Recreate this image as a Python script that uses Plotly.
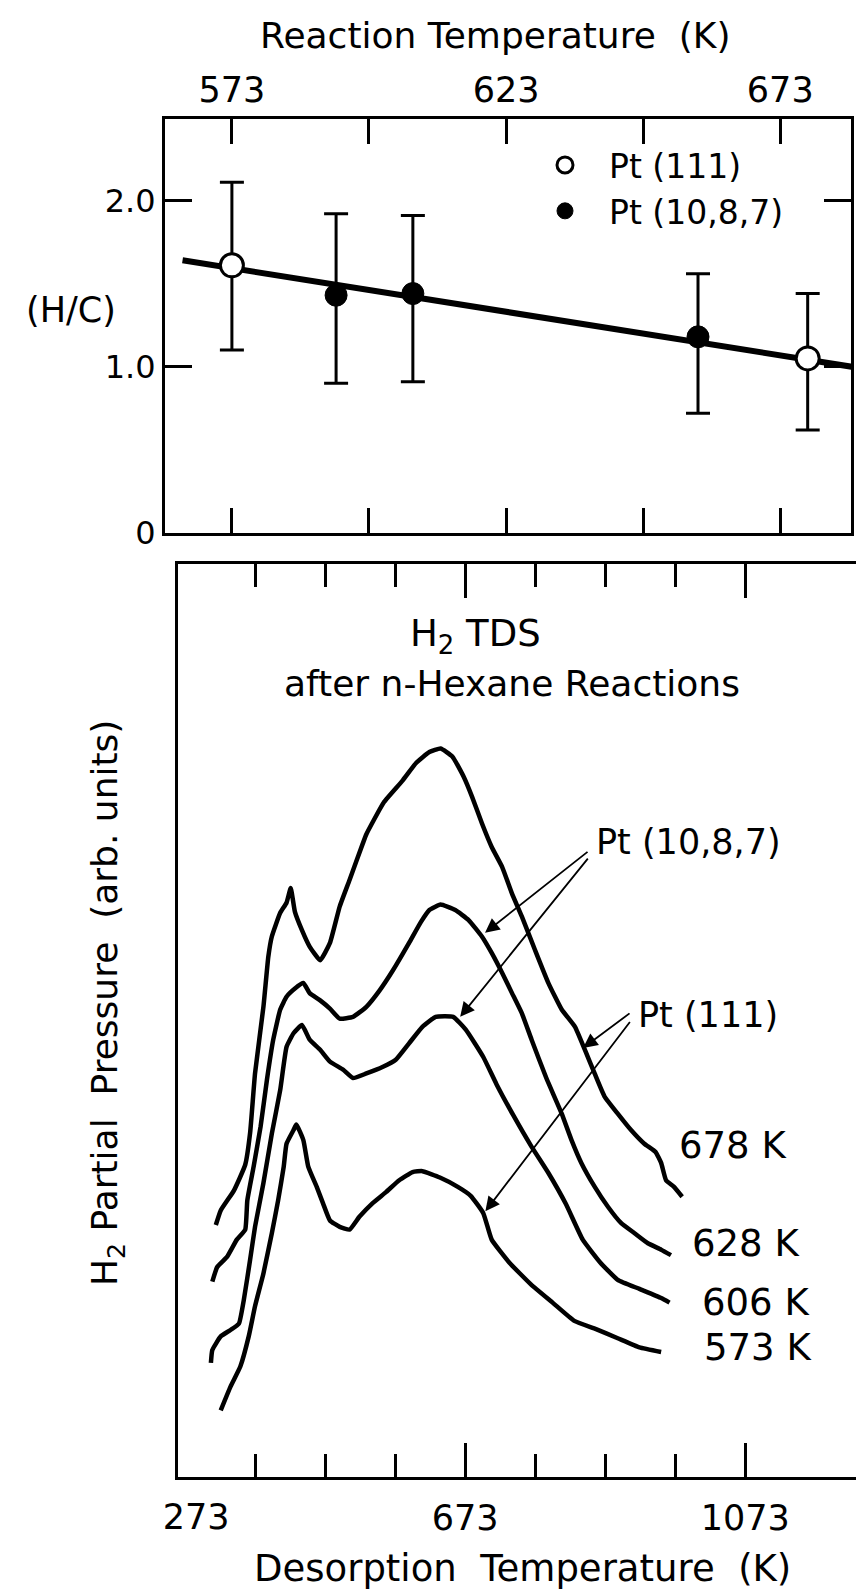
import plotly.graph_objects as go

# ---------------- Top panel data: (H/C) vs reaction temperature ----------------
T_PT111 = [573, 678]
HC_PT111 = [1.61, 1.05]
ERR_PT111_UP = [0.50, 0.39]
ERR_PT111_DN = [0.51, 0.43]

T_PT1087 = [592, 606, 658]
HC_PT1087 = [1.43, 1.44, 1.18]
ERR_PT1087_UP = [0.49, 0.47, 0.38]
ERR_PT1087_DN = [0.53, 0.53, 0.46]

FIT_T = [564, 686]
FIT_HC = [1.64, 1.00]

TOP_TICKS = [573, 598, 623, 648, 673]
TOP_TICK_TEXT = ["573", "", "623", "", "673"]
HC_TICKS = [0, 1, 2]
HC_TICK_TEXT = ["0", "1.0", "2.0"]

# ---------------- Bottom panel data: H2 TDS spectra (arb. units) ----------------
T_678 = [317, 324, 343, 359, 366, 373, 385, 392, 397, 409, 418, 424, 430, 440, 451, 466, 480, 494,
         508, 527, 532, 557, 584, 603, 622, 638, 655, 671, 683, 697, 711, 726, 740, 754, 773, 792,
         811, 830, 844, 858, 872, 891, 910, 929, 945, 953, 960, 971, 983]
P_678 = [27.6, 29.2, 31.4, 34.2, 37.7, 44.2, 51.5, 57.0, 59.2, 61.8, 62.9, 64.5, 61.9, 59.9, 58.1,
         56.6, 58.5, 62.5, 65.4, 69.4, 70.4, 73.9, 76.3, 78.2, 79.4, 79.8, 78.9, 76.7, 74.5, 71.6,
         69.0, 66.8, 63.9, 61.4, 57.7, 54.1, 51.2, 49.3, 46.8, 44.2, 41.7, 39.8, 38.0, 36.5, 35.6,
         34.4, 32.5, 31.8, 30.7]

T_628 = [312, 319, 333, 347, 359, 362, 371, 381, 390, 399, 409, 418, 430, 442, 451, 466, 480, 494,
         513, 532, 551, 570, 593, 610, 622, 638, 659, 678, 697, 711, 726, 740, 754, 768, 789, 811,
         825, 839, 858, 877, 896, 915, 934, 953, 967]
P_628 = [21.4, 23.0, 24.1, 26.0, 27.1, 30.3, 34.0, 38.4, 43.5, 47.9, 51.2, 52.6, 53.5, 54.1, 53.0,
         52.2, 51.3, 50.2, 50.4, 51.5, 53.3, 55.5, 58.5, 60.8, 62.1, 62.7, 62.1, 61.0, 59.2, 57.4,
         55.2, 53.0, 50.8, 47.9, 43.7, 39.8, 36.9, 34.4, 31.8, 29.6, 27.8, 26.7, 25.6, 24.9, 24.3]

T_606 = [310, 312, 324, 338, 350, 357, 366, 373, 385, 397, 409, 418, 428, 440, 451, 466, 480, 499,
         513, 532, 555, 574, 593, 612, 631, 656, 674, 699, 718, 742, 767, 792, 817, 841, 866, 891,
         922, 953, 965]
P_606 = [12.5, 13.9, 15.4, 16.1, 16.8, 19.4, 23.8, 27.4, 32.2, 37.6, 42.4, 47.1, 48.6, 49.5, 47.9,
         46.8, 45.5, 44.6, 43.7, 44.2, 44.9, 45.7, 47.5, 49.3, 50.4, 50.4, 49.0, 46.0, 43.0, 39.6,
         36.3, 33.3, 29.9, 26.0, 23.5, 21.6, 20.6, 19.6, 19.1]

T_573 = [324, 338, 352, 364, 373, 385, 397, 406, 414, 418, 428, 432, 442, 449, 461, 470, 480, 494,
         508, 522, 541, 560, 579, 598, 612, 637, 662, 681, 699, 711, 736, 767, 798, 829, 860, 891,
         922, 953]
P_573 = [7.3, 9.9, 12.1, 15.4, 18.7, 22.3, 26.7, 30.3, 34.0, 36.5, 38.0, 38.6, 36.9, 34.0, 31.8,
         30.0, 28.1, 27.4, 27.1, 28.5, 30.0, 31.2, 32.5, 33.4, 33.5, 32.8, 31.8, 30.8, 28.9, 26.0,
         23.5, 21.1, 19.1, 17.1, 16.2, 15.2, 14.2, 13.7]

CURVES = [("678 K", T_678, P_678), ("628 K", T_628, P_628),
          ("606 K", T_606, P_606), ("573 K", T_573, P_573)]

DES_MAJOR_TICKS = [673, 1073]
DES_FIRST_LABEL = [273]
DES_MINOR_TICKS = [373, 473, 573, 773, 873, 973]

FONT = "DejaVu Sans"
OFF = 8                    # the page body margin offsets the figure by 8 px
W, H = 864 - OFF, 1592 - OFF


def px_x(p):
    return (p - OFF) / W


def px_y(p):
    return 1 - (p - OFF) / H


fig = go.Figure()

# fit line
fig.add_trace(go.Scatter(x=FIT_T, y=FIT_HC, mode="lines", line=dict(color="black", width=6),
                         showlegend=False, hoverinfo="skip", xaxis="x", yaxis="y"))

fig.add_trace(go.Scatter(
    x=T_PT111, y=HC_PT111, mode="markers", name="Pt (111)",
    marker=dict(symbol="circle", size=23, color="white", line=dict(color="black", width=3)),
    error_y=dict(type="data", array=ERR_PT111_UP, arrayminus=ERR_PT111_DN, color="black",
                 thickness=3, width=12),
    xaxis="x", yaxis="y"))

fig.add_trace(go.Scatter(
    x=T_PT1087, y=HC_PT1087, mode="markers", name="Pt (10,8,7)",
    marker=dict(symbol="circle", size=22, color="black", line=dict(color="black", width=1)),
    error_y=dict(type="data", array=ERR_PT1087_UP, arrayminus=ERR_PT1087_DN, color="black",
                 thickness=3, width=12),
    xaxis="x", yaxis="y"))

for i, (name, tx, py) in enumerate(CURVES):
    fig.add_trace(go.Scatter(x=tx, y=py, mode="lines", name=name, showlegend=False,
                             line=dict(color="black", width=4.5, shape="spline", smoothing=0.4),
                             xaxis="x3" if i == len(CURVES) - 1 else "x2", yaxis="y2"))

tickfont = dict(family=FONT, size=35, color="black")
axis_common = dict(showline=True, linewidth=3, linecolor="black", mirror="ticks",
                   ticks="inside", tickwidth=2.5, tickcolor="black", showgrid=False,
                   zeroline=False, automargin=False, tickfont=tickfont)

fig.update_layout(
    width=W, height=H,
    margin=dict(l=0, r=0, t=0, b=0),
    paper_bgcolor="white", plot_bgcolor="white",
    font=dict(family=FONT, color="black"),
    xaxis=dict(domain=[px_x(165), px_x(851)], range=[560.8, 685.9], anchor="y", side="top",
               tickmode="array", tickvals=TOP_TICKS, ticktext=TOP_TICK_TEXT, ticklen=25,
               ticklabelstandoff=0, **axis_common),
    yaxis=dict(domain=[px_y(533), px_y(119)], range=[0, 2.49], anchor="x",
               tickmode="array", tickvals=HC_TICKS, ticktext=HC_TICK_TEXT, ticklen=27,
               **{**axis_common, "tickfont": dict(family=FONT, size=32, color="black")}),
    xaxis2=dict(domain=[px_x(178), px_x(860)], range=[263, 1237], anchor="y2",
                tickmode="array", tickvals=DES_MAJOR_TICKS,
                ticktext=[str(v) for v in DES_MAJOR_TICKS], ticklen=34, ticklabelstandoff=8,
                minor=dict(tickmode="array", tickvals=DES_MINOR_TICKS, ticks="inside", ticklen=23,
                           tickwidth=2.5, tickcolor="black"),
                **axis_common),
    # the 273 K label has no tick mark in the original, so it lives on an overlaid axis
    xaxis3=dict(overlaying="x2", matches="x2", anchor="y2", side="bottom",
                tickmode="array", tickvals=DES_FIRST_LABEL,
                ticktext=["\u00a0\u00a0" + str(v) for v in DES_FIRST_LABEL], ticks="",
                ticklabelstandoff=16, showline=False, showgrid=False, zeroline=False,
                automargin=False, tickfont=tickfont),
    yaxis2=dict(domain=[px_y(1477), px_y(564)], range=[0, 100], anchor="x2",
                showticklabels=False, tickvals=[], showline=True, linewidth=3, linecolor="black",
                mirror=True, showgrid=False, zeroline=False),
    legend=dict(x=px_x(521), y=px_y(137), xanchor="left", yanchor="top",
                font=dict(family=FONT, size=33, color="black"), bgcolor="rgba(0,0,0,0)",
                itemwidth=78, tracegroupgap=0),
    showlegend=True,
)

ann = []
txt = dict(family=FONT, size=35, color="black")
big = dict(family=FONT, size=36, color="black")
ann.append(dict(text="Reaction Temperature  (K)", x=px_x(495), y=px_y(36), xref="paper", yref="paper",
                showarrow=False, font=big, xanchor="center", yanchor="middle"))
ann.append(dict(text="(H/C)", x=px_x(71), y=px_y(310), xref="paper", yref="paper",
                showarrow=False, font=txt, xanchor="center", yanchor="middle"))
ann.append(dict(text="H<sub>2</sub> TDS", x=px_x(475), y=px_y(610), xref="paper", yref="paper",
                showarrow=False, font=dict(family=FONT, size=37, color="black"),
                xanchor="center", yanchor="top"))
ann.append(dict(text="after n-Hexane Reactions", x=px_x(512), y=px_y(683), xref="paper", yref="paper",
                showarrow=False, font=big, xanchor="center", yanchor="middle"))
ann.append(dict(text="H<sub>2</sub> Partial  Pressure  (arb. units)", x=px_x(107), y=px_y(1003),
                xref="paper", yref="paper", showarrow=False, font=big, textangle=-90,
                xanchor="center", yanchor="middle"))
ann.append(dict(text="Desorption  Temperature  (K)", x=px_x(522), y=px_y(1568), xref="paper",
                yref="paper", showarrow=False, font=dict(family=FONT, size=37, color="black"),
                xanchor="center", yanchor="middle"))

# curve labels
label_pos = {"678 K": (976, 36.3), "628 K": (994, 25.6), "606 K": (1009, 19.1), "573 K": (1012, 14.2)}
for name, _, _ in CURVES:
    lx, ly = label_pos[name]
    ann.append(dict(text=name, x=lx, y=ly, xref="x2", yref="y2", showarrow=False,
                    font=dict(family=FONT, size=37, color="black"), xanchor="left", yanchor="middle"))

ann.append(dict(text="Pt (10,8,7)", x=857, y=69.5, xref="x2", yref="y2", showarrow=False,
                font=txt, xanchor="left", yanchor="middle"))
ann.append(dict(text="Pt (111)", x=917, y=50.6, xref="x2", yref="y2", showarrow=False,
                font=txt, xanchor="left", yanchor="middle"))

arrows = [((850, 68.6), (701.5, 59.6)), ((850, 67.9), (666, 50.4)),
          ((910, 50.9), (841.5, 47.0)), ((910, 50.0), (702, 29.1))]
for (sx, sy), (ex, ey) in arrows:
    ann.append(dict(text="", x=ex, y=ey, ax=sx, ay=sy, xref="x2", yref="y2", axref="x2", ayref="y2",
                    showarrow=True, arrowhead=2, arrowsize=1.6, arrowwidth=1.8, arrowcolor="black"))

fig.update_layout(annotations=ann)

fig.write_html("out.html")
